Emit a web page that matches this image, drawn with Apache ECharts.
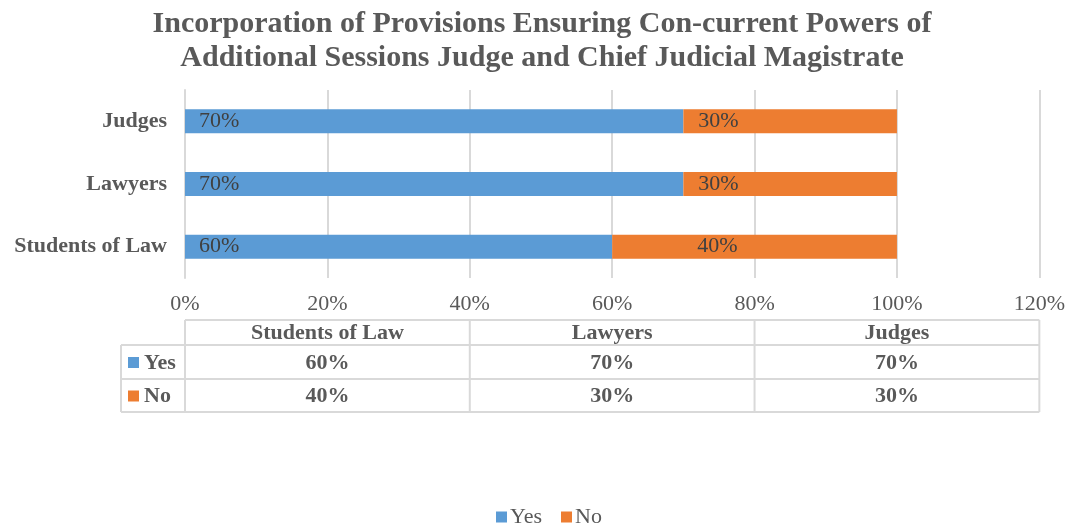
<!DOCTYPE html>
<html>
<head>
<meta charset="utf-8">
<script src="https://cdn.jsdelivr.net/npm/echarts@6/dist/echarts.min.js"></script>
<style>
  html, body { margin: 0; padding: 0; background: #fff; }
  #chart { width: 1068px; height: 525px; }
</style>
</head>
<body>
<div id="chart"></div>
<script>
// Survey groups, bottom to top on the bar axis
const categories = ['Students of Law', 'Lawyers', 'Judges'];
const yesValues = [60, 70, 70];
const noValues = [40, 30, 30];
const xTicks = [0, 20, 40, 60, 80, 100, 120];

const SERIF = '"Liberation Serif", "Times New Roman", serif';
const BLUE = '#5B9BD5';
const ORANGE = '#ED7D31';
const TEXT = '#595959';
const GRID = '#D9D9D9';

// inside-left label offset (px) for each "No" segment
const noLabelGap = [85, 15, 15];

const chart = echarts.init(document.getElementById('chart'), null, { renderer: 'canvas' });

const option = {
  animation: false,
  backgroundColor: '#fff',
  title: {
    text: 'Incorporation of Provisions Ensuring Con-current Powers of\nAdditional Sessions Judge and Chief Judicial Magistrate',
    left: 537,
    top: 2,
    textAlign: 'center',
    textStyle: {
      fontFamily: SERIF, fontSize: 30, fontWeight: 'bold', color: TEXT, lineHeight: 34
    }
  },
  legend: {
    bottom: -8,
    left: 491,
    itemWidth: 11,
    itemHeight: 11,
    itemGap: 19,
    icon: 'rect',
    textStyle: { fontFamily: SERIF, fontSize: 22, color: TEXT, padding: [0, 0, 0, -2] },
    data: ['Yes', 'No']
  },
  grid: { left: 185, right: 27, top: 90, height: 188, containLabel: false },
  xAxis: {
    type: 'value',
    min: xTicks[0],
    max: xTicks[xTicks.length - 1],
    interval: xTicks[1] - xTicks[0],
    axisLine: { show: false },
    axisTick: { show: false },
    splitLine: { show: true, lineStyle: { color: GRID, width: 2 } },
    axisLabel: {
      formatter: '{value}%', fontFamily: SERIF, fontSize: 22, color: TEXT, margin: 15
    }
  },
  yAxis: {
    type: 'category',
    data: categories,
    axisLine: { show: true, lineStyle: { color: GRID, width: 2 } },
    axisTick: { show: false },
    axisLabel: {
      fontFamily: SERIF, fontSize: 22, fontWeight: 'bold', color: TEXT, margin: 18,
      padding: [3, 0, 0, 0]
    }
  },
  series: [
    {
      name: 'Yes',
      type: 'bar',
      stack: 'total',
      barWidth: 24,
      itemStyle: { color: BLUE },
      label: {
        show: true, position: 'insideLeft', distance: 14,
        formatter: '{c}%', fontFamily: SERIF, fontSize: 22, color: '#404040'
      },
      data: yesValues
    },
    {
      name: 'No',
      type: 'bar',
      stack: 'total',
      barWidth: 24,
      itemStyle: { color: ORANGE },
      label: {
        show: true, position: 'insideLeft', distance: 15,
        formatter: '{c}%', fontFamily: SERIF, fontSize: 22, color: '#404040'
      },
      data: noValues.map((v, i) => ({ value: v, label: { distance: noLabelGap[i] } }))
    }
  ]
};

chart.setOption(option);

// Data table beneath the axis: one column per category, rows for each series
function buildTable() {
  const px = v => chart.convertToPixel({ xAxisIndex: 0 }, v);
  const colEdges = [px(0), px(40), px(80), px(120)];
  const tableLeft = 121;
  const rowEdges = [320, 345, 379, 412];
  const lineStyle = { stroke: GRID, lineWidth: 2 };
  const els = [];
  const line = (x1, y1, x2, y2) => els.push({
    type: 'line', shape: { x1, y1, x2, y2 }, style: lineStyle, silent: true
  });
  // horizontal rules
  line(colEdges[0], rowEdges[0], colEdges[3], rowEdges[0]);
  line(tableLeft, rowEdges[1], colEdges[3], rowEdges[1]);
  line(tableLeft, rowEdges[2], colEdges[3], rowEdges[2]);
  line(tableLeft, rowEdges[3], colEdges[3], rowEdges[3]);
  // vertical rules
  line(tableLeft, rowEdges[1], tableLeft, rowEdges[3]);
  colEdges.forEach(x => line(x, rowEdges[0], x, rowEdges[3]));

  const txt = (x, y, text, align) => els.push({
    type: 'text', x, y, silent: true,
    style: {
      text, fontFamily: SERIF, fontSize: 22, fontWeight: 'bold', fill: TEXT,
      align: align || 'center', verticalAlign: 'middle'
    }
  });
  const mid = (a, b) => (a + b) / 2;
  // header row
  categories.forEach((c, i) => txt(mid(colEdges[i], colEdges[i + 1]), mid(rowEdges[0], rowEdges[1]) + 1, c));
  // series rows
  const rows = [
    { name: 'Yes', color: BLUE, values: yesValues },
    { name: 'No', color: ORANGE, values: noValues }
  ];
  rows.forEach((r, ri) => {
    const yc = mid(rowEdges[ri + 1], rowEdges[ri + 2]) + 1;
    els.push({
      type: 'rect', silent: true,
      shape: { x: 128, y: yc - 6, width: 11, height: 11 },
      style: { fill: r.color }
    });
    txt(144, yc, r.name, 'left');
    r.values.forEach((v, i) => txt(mid(colEdges[i], colEdges[i + 1]), yc, v + '%'));
  });
  chart.setOption({ graphic: { elements: els } });
}
buildTable();
</script>
</body>
</html>
